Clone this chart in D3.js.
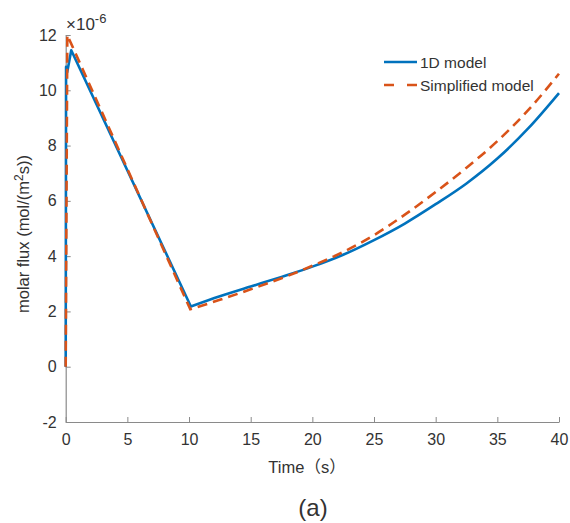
<!DOCTYPE html>
<html>
<head>
<meta charset="utf-8">
<script src="https://cdn.jsdelivr.net/npm/d3@7"></script>
<style>
  html, body { margin: 0; padding: 0; background: #fff; }
  svg text { font-family: "Liberation Sans", Arial, sans-serif; }
</style>
</head>
<body>
<svg id="chart" width="570" height="523"></svg>
<script>
// ---- data (values in units of 1e-6 mol/(m^2 s)) ----
const seriesNames = ["1D model", "Simplified model"];
const timeBlue = [0, 0.03, 0.12, 0.45, 10.15, 12.5, 15, 17.5, 20, 22.5, 25, 27.5, 30, 32.5, 35, 37.5, 40];
const fluxBlue = [0, 10.85, 10.65, 11.45, 2.18, 2.55, 2.9, 3.25, 3.62, 4.05, 4.58, 5.18, 5.88, 6.63, 7.53, 8.62, 9.9];
const timeOrange = [0, 0.13, 10.1, 12.5, 15, 17.5, 20, 22.5, 25, 27.5, 30, 32.5, 35, 37.5, 40];
const fluxOrange = [0, 12.0, 2.08, 2.42, 2.8, 3.2, 3.65, 4.15, 4.76, 5.5, 6.32, 7.2, 8.16, 9.28, 10.6];
const xTicks = [0, 5, 10, 15, 20, 25, 30, 35, 40];
const yTicks = [-2, 0, 2, 4, 6, 8, 10, 12];
const colors = ["#0072BD", "#D95319"];

const svg = d3.select("#chart");
const x = d3.scaleLinear().domain([0, 40]).range([65.7, 559]);
const y = d3.scaleLinear().domain([-2, 12]).range([422, 35]);

const axisColor = "#8a8a8a";
const textColor = "#333";

// axes (MATLAB style, inward ticks, no box)
const xAxis = svg.append("g").attr("transform", `translate(0,${y(-2)})`)
  .call(d3.axisBottom(x).tickValues(xTicks).tickFormat(d => String(d))
    .tickSizeInner(-5).tickSizeOuter(0).tickPadding(12));
const yAxis = svg.append("g").attr("transform", `translate(${x(0)},0)`)
  .call(d3.axisLeft(y).tickValues(yTicks).tickFormat(d => String(d))
    .tickSizeInner(-5).tickSizeOuter(0).tickPadding(9));
[xAxis, yAxis].forEach(g => {
  g.select(".domain").attr("stroke", axisColor).attr("stroke-width", 1.2);
  g.selectAll(".tick line").attr("stroke", axisColor).attr("stroke-width", 1);
  g.selectAll(".tick text").attr("fill", textColor).style("font-size", "16px")
    .style("font-family", "'Liberation Sans', Arial, sans-serif");
});

// exponent label
const expo = svg.append("text").attr("x", 66).attr("y", 30).attr("fill", textColor)
  .style("font-size", "17px");
expo.append("tspan").text("×10");
expo.append("tspan").attr("dy", -7).style("font-size", "13px").text("-6");

// axis titles
const yl = svg.append("text").attr("transform", "translate(29,234) rotate(-90)")
  .attr("text-anchor", "middle").attr("fill", textColor).style("font-size", "16.5px");
yl.append("tspan").text("molar flux (mol/(m");
yl.append("tspan").attr("dy", -6).style("font-size", "12px").text("2");
yl.append("tspan").attr("dy", 6).text("s))");

svg.append("text").attr("x", 307).attr("y", 473).attr("text-anchor", "middle")
  .attr("fill", textColor).style("font-size", "16.5px")
  .style("font-family", "'Liberation Sans', 'Noto Sans CJK SC', sans-serif")
  .text("Time（s）");

svg.append("text").attr("x", 313).attr("y", 516).attr("text-anchor", "middle")
  .attr("fill", textColor).style("font-size", "24px").text("(a)");

// lines: linear through the start-up and decay, smooth through the rise
const linLine = d3.line().x(d => x(d[0])).y(d => y(d[1]));
const smoothLine = d3.line().x(d => x(d[0])).y(d => y(d[1])).curve(d3.curveMonotoneX);
function pathFor(ts, vs, splitIdx) {
  const pts = ts.map((t, i) => [t, vs[i]]);
  const a = linLine(pts.slice(0, splitIdx + 1));
  const b = smoothLine(pts.slice(splitIdx)).replace(/^M/, "L");
  return a + b;
}

svg.append("path").attr("d", pathFor(timeBlue, fluxBlue, 4))
  .attr("fill", "none").attr("stroke", colors[0]).attr("stroke-width", 2.6)
  .attr("stroke-linejoin", "round");
svg.append("path").attr("d", pathFor(timeOrange, fluxOrange, 2))
  .attr("fill", "none").attr("stroke", colors[1]).attr("stroke-width", 2.6)
  .attr("stroke-dasharray", "10,6");

// legend
const leg = svg.append("g");
const legY = [62, 85];
seriesNames.forEach((name, i) => {
  leg.append("line").attr("x1", 384).attr("x2", 417).attr("y1", legY[i]).attr("y2", legY[i])
    .attr("stroke", colors[i]).attr("stroke-width", 2.6)
    .attr("stroke-dasharray", i === 1 ? "10,13" : null);
  leg.append("text").attr("x", 420).attr("y", legY[i] + 5.5).attr("fill", textColor)
    .style("font-size", "15.5px").text(name);
});
</script>
</body>
</html>
